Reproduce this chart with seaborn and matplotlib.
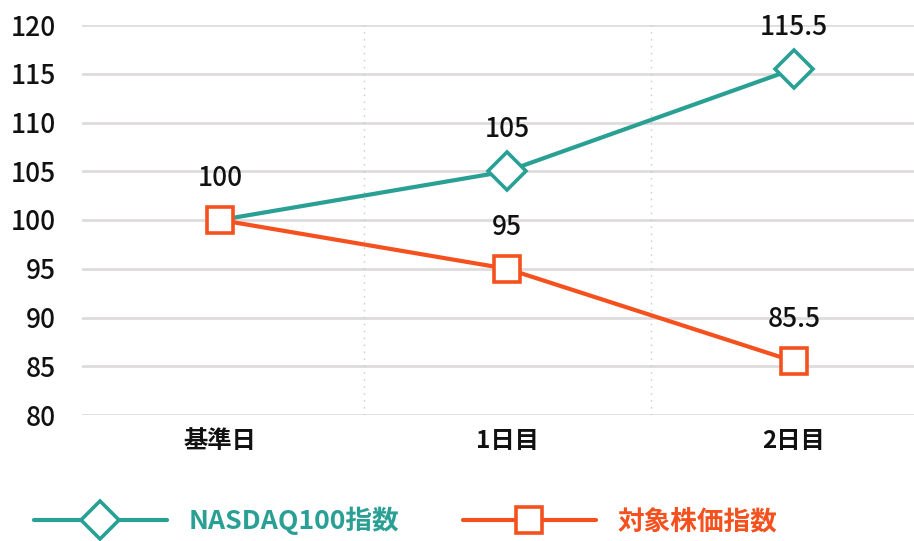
import matplotlib
matplotlib.use("Agg")
import matplotlib.pyplot as plt
import seaborn as sns
import pandas as pd

categories = ["基準日", "1日目", "2日目"]
nasdaq = [100, 105, 115.5]
target = [100, 95, 85.5]
nasdaq_labels = ["", "105", "115.5"]
target_labels = ["100", "95", "85.5"]
series_names = ["NASDAQ100指数", "対象株価指数"]
yticks = [80, 85, 90, 95, 100, 105, 110, 115, 120]

TEAL = "#2aa095"
ORANGE = "#f4511e"

sns.set_theme(style="white")
plt.rcParams["font.family"] = ["Noto Sans CJK JP", "DejaVu Sans"]

fig = plt.figure(figsize=(9.14, 5.41), dpi=100)
ax = fig.add_axes([82 / 914, (541 - 415) / 541, (914 - 82) / 914, (415 - 25) / 541])

pos = list(range(len(categories)))

sns.lineplot(x=pos, y=nasdaq, ax=ax, color=TEAL, lw=3, marker="D", markersize=19,
             markerfacecolor="white", markeredgecolor=TEAL, markeredgewidth=2.6,
             markevery=[1, 2],
             label=series_names[0], clip_on=False, zorder=4)
sns.lineplot(x=pos, y=target, ax=ax, color=ORANGE, lw=3, marker="s", markersize=19,
             markerfacecolor="white", markeredgecolor=ORANGE, markeredgewidth=2.6,
             label=series_names[1], clip_on=False, zorder=5)

for x, y, t in zip(pos, nasdaq, nasdaq_labels):
    if t:
        ax.annotate(t, (x, y), xytext=(0, 30), textcoords="offset points",
                    ha="center", va="center", fontsize=19, color="#111111",
                    fontweight="medium")
for x, y, t in zip(pos, target, target_labels):
    ax.annotate(t, (x, y), xytext=(0, 30), textcoords="offset points",
                ha="center", va="center", fontsize=19, color="#111111",
                fontweight="medium")

ax.set_xlim(-0.481, 2.418)
ax.set_ylim(80, 120)
ax.set_yticks(yticks)
ax.set_yticklabels([str(v) for v in yticks], fontsize=19, color="#111111",
                   fontweight="medium")
ax.set_xticks(pos)
ax.set_xticklabels(categories, fontsize=17.5, fontweight="bold", color="#111111")
ax.tick_params(axis="y", length=0, pad=19)
ax.tick_params(axis="x", length=0, pad=10)
for lbl in ax.get_yticklabels():
    lbl.set_horizontalalignment("right")

for v in yticks:
    ax.axhline(v, color="#dedcdc", lw=2, zorder=1)
for xv in [0.5, 1.5]:
    ax.axvline(xv, color="#c8c8c8", lw=1, ls=(0, (1, 4)), zorder=1)

for s in ax.spines.values():
    s.set_visible(False)
ax.grid(False)
ax.set_xlabel("")
ax.set_ylabel("")

handles, labels = ax.get_legend_handles_labels()
ax.get_legend().remove()
leg = fig.legend(handles, labels, loc="center left", bbox_to_anchor=(0.025, 0.037),
                 ncol=2, frameon=False, fontsize=19.2, handlelength=5.0,
                 handletextpad=0.8, columnspacing=2.4, borderaxespad=0)
for txt, c in zip(leg.get_texts(), [TEAL, ORANGE]):
    txt.set_color(c)
    txt.set_fontweight("bold")

fig.savefig("out.png", dpi=100)
